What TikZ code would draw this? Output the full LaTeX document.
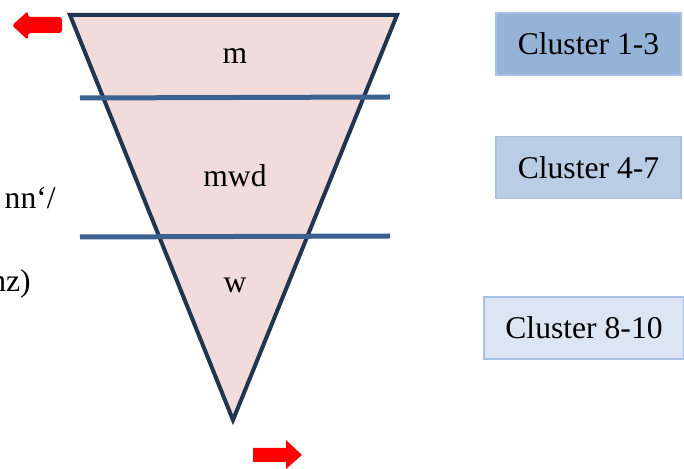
\documentclass[tikz,border=0pt]{standalone}
\usepackage{fontspec}
\setmainfont{Liberation Serif}
\usetikzlibrary{positioning}
\definecolor{funnelfill}{HTML}{F2DCDB}
\definecolor{funneledge}{HTML}{1F3550}
\definecolor{cutline}{HTML}{3A6190}
\definecolor{clusterA}{HTML}{95B3D7}
\definecolor{clusterB}{HTML}{B9CDE5}
\definecolor{clusterC}{HTML}{DCE6F2}
\definecolor{clusteredge}{HTML}{A8C0E2}

\begin{document}
\begin{tikzpicture}[x=0.02cm,y=-0.02cm,
  lbl/.style={font=\fontsize{18}{20}\selectfont},
  clbox/.style={draw=clusteredge,line width=0.6pt,minimum height=62*0.02cm,
    font=\fontsize{18}{20}\selectfont,inner sep=0pt},
  cut/.style={draw=cutline,line width=5*0.02cm},
]
\useasboundingbox (0,0) rectangle (684,469);
\clip (0,0) rectangle (684,469);
% funnel
\draw[fill=funnelfill,draw=funneledge,line width=4*0.02cm,line join=miter]
  (70,15) -- (397,15) -- (233,420) -- cycle;
\draw[cut] (80,98) -- (390,97);
\draw[cut] (80,237) -- (390,236);
\node[lbl] (top) at (235,56) {m};
\node[lbl] (mid) at (235,176) {mwd};
\node[lbl] (bot) at (235,285) {w};
% cut-off text on the left
\node[lbl,anchor=east,inner sep=0pt] (lefta) at (56,198) {nn‘/};
\node[lbl,anchor=east,inner sep=0pt] (leftb) at (31,284) {nz)};
% clusters
\node[clbox,fill=clusterA,minimum width=185*0.02cm] (c1) at (588.5,44) {Cluster 1-3};
\node[clbox,fill=clusterB,minimum width=185*0.02cm] (c2) at (588.5,167.5) {Cluster 4-7};
\node[clbox,fill=clusterC,minimum width=200*0.02cm] (c3) at (584,328) {Cluster 8-10};
% red arrows
\fill[red,rounded corners=1.5pt] (62,17) -- (28,17) -- (28,11) -- (12,25.5)
  -- (28,40) -- (28,33) -- (62,33) -- cycle;
\fill[red] (253,448) -- (286,448) -- (286,440) -- (302,455)
  -- (286,469) -- (286,462) -- (253,462) -- cycle;
\end{tikzpicture}
\end{document}
